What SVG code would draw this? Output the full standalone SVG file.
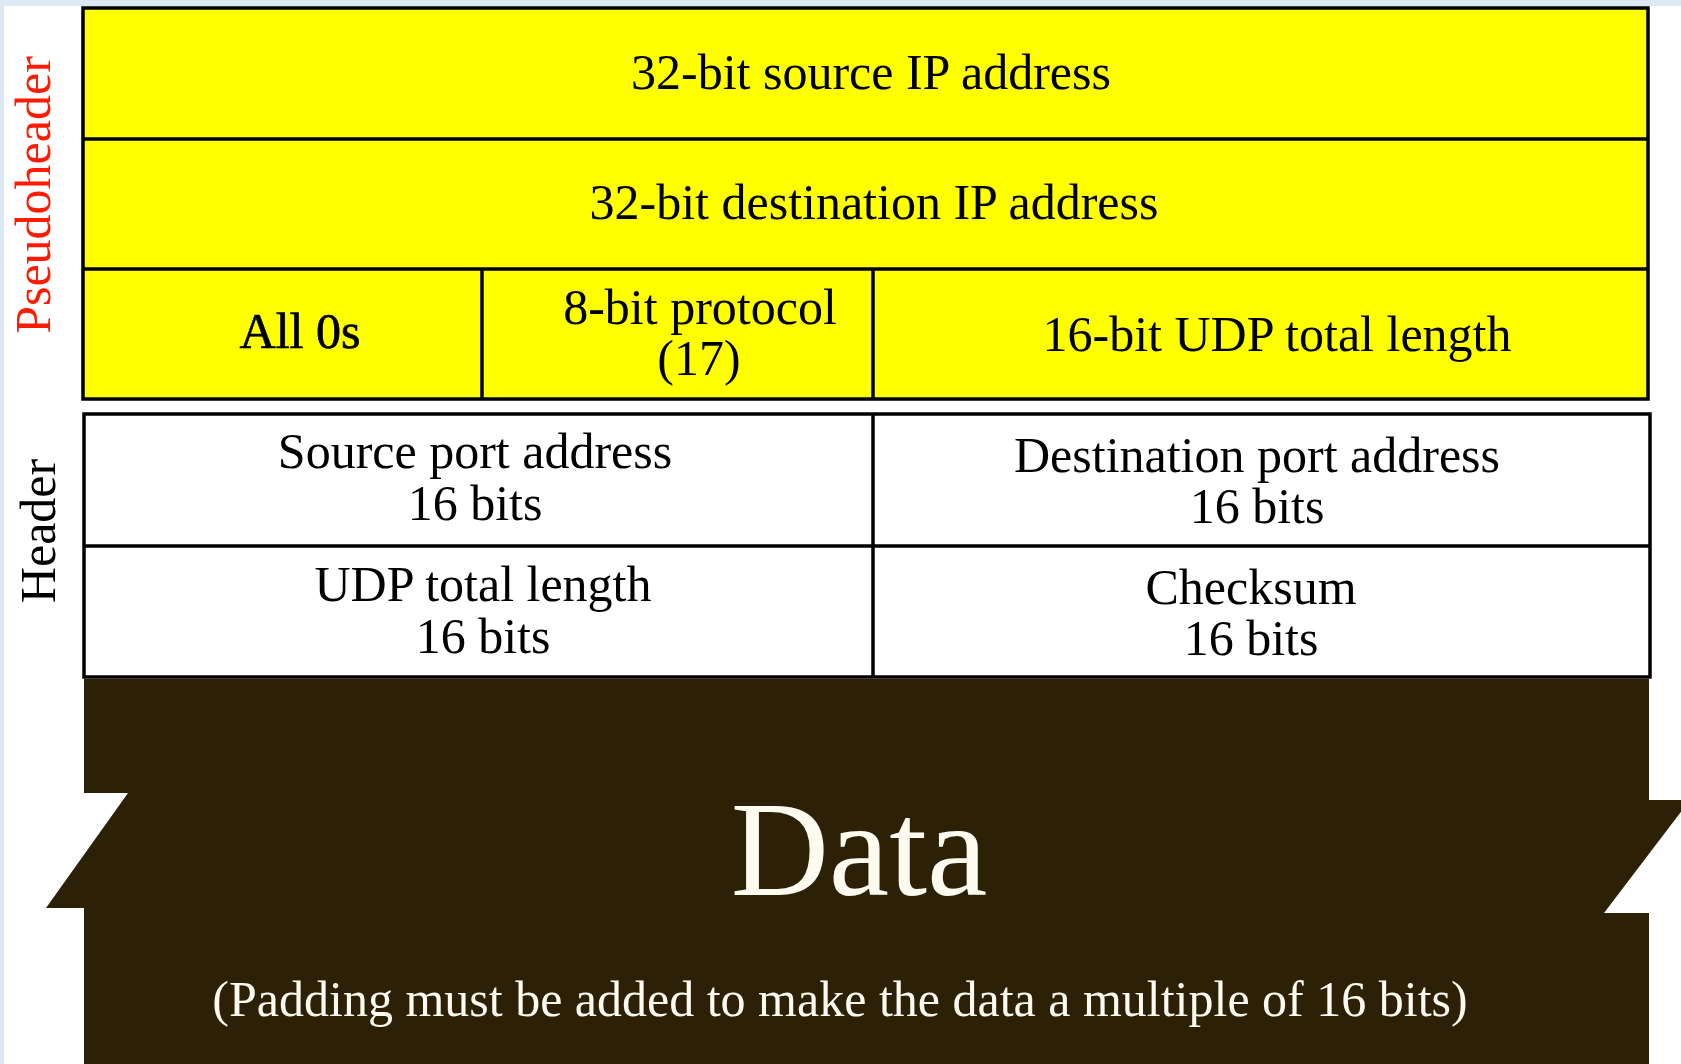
<svg xmlns="http://www.w3.org/2000/svg" width="1681" height="1064" viewBox="0 0 1681 1064">
<style>
.t{font-family:"Liberation Serif","Times New Roman",serif;font-size:50px;fill:#000;text-anchor:middle}
.w{fill:#fdfbef}
.cell{stroke:#000;stroke-width:3.5}
</style>
<rect x="0" y="0" width="1681" height="1064" fill="#dce8f4"/>
<rect x="4" y="6" width="1677" height="1058" fill="#ffffff"/>
<g id="pseudoheader">
<rect class="cell" x="83" y="8" width="1565" height="391" fill="#ffff00"/>
<line class="cell" x1="83" y1="139" x2="1648" y2="139"/>
<line class="cell" x1="83" y1="269" x2="1648" y2="269"/>
<line class="cell" x1="482" y1="269" x2="482" y2="399"/>
<line class="cell" x1="873" y1="269" x2="873" y2="399"/>
</g>
<g id="src-ip"><text class="t" x="871" y="89">32-bit source IP address</text></g>
<g id="dst-ip"><text class="t" x="874" y="219">32-bit destination IP address</text></g>
<g id="zeros"><text class="t" x="300" y="348" stroke="#000" stroke-width="0.7">All 0s</text></g>
<g id="protocol"><text class="t" x="700" y="324">8-bit protocol</text><text class="t" x="699" y="375">(17)</text></g>
<g id="udp-len-ph"><text class="t" x="1277" y="351">16-bit UDP total length</text></g>
<g id="header">
<rect class="cell" x="84" y="414" width="1566" height="263" fill="#ffffff"/>
<line class="cell" x1="84" y1="546" x2="1650" y2="546"/>
<line class="cell" x1="873" y1="414" x2="873" y2="677"/>
</g>
<g id="src-port"><text class="t" x="475" y="468">Source port address</text><text class="t" x="475" y="520">16 bits</text></g>
<g id="dst-port"><text class="t" x="1257" y="472">Destination port address</text><text class="t" x="1257" y="523">16 bits</text></g>
<g id="udp-len"><text class="t" x="483" y="601">UDP total length</text><text class="t" x="483" y="653">16 bits</text></g>
<g id="checksum"><text class="t" x="1251" y="604">Checksum</text><text class="t" x="1251" y="655">16 bits</text></g>
<g id="data">
<path d="M84 679 H1649 V800 H1690 L1604 913 H1649 V1064 H84 V908 H46 L128 793 H84 Z" fill="#2c2006"/>
<text class="t w" x="859" y="895" style="font-size:136px">Data</text>
<text class="t w" x="840" y="1016">(Padding must be added to make the data a multiple of 16 bits)</text>
</g>
<g id="labels">
<text class="t" transform="translate(50 195) rotate(-90)" style="fill:#ff1a00">Pseudoheader</text>
<text class="t" transform="translate(55 531) rotate(-90)">Header</text>
</g>
<g id="connectors"></g>
</svg>
